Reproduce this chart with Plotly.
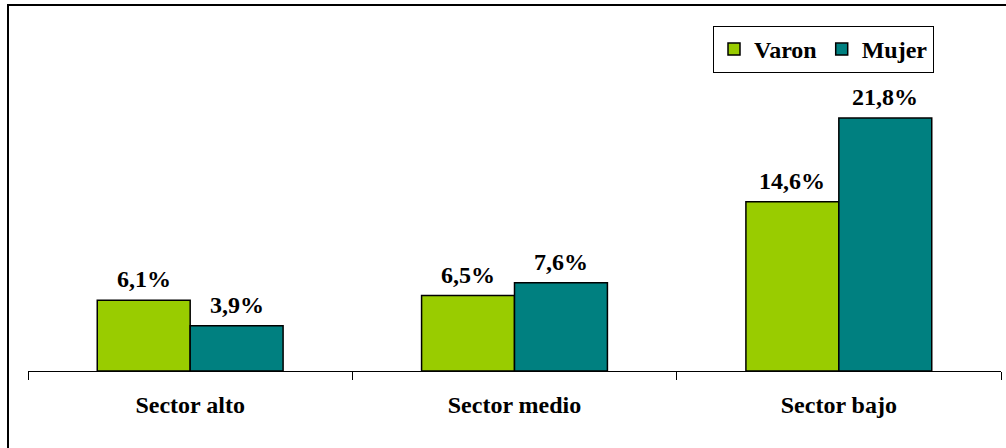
import plotly.graph_objects as go

categories = ["Sector alto", "Sector medio", "Sector bajo"]
varon = [6.1, 6.5, 14.6]
mujer = [3.9, 7.6, 21.8]
series_names = ["Varon", "Mujer"]
colors = ["#99CC00", "#008080"]

W, H = 1006, 448
ml, mr, mt, mb = 28, 5, 10, 77
plot_w = W - ml - mr
plot_h = H - mt - mb
px_per_unit = 11.6
ymax = plot_h / px_per_unit
bargap = 0.427
FONT = "'Times New Roman', 'Liberation Serif', Tinos, serif"
FS = 24

def fmt(v):
    return f"{v:.1f}".replace(".", ",") + "%"

fig = go.Figure()
for name, vals, col in zip(series_names, [varon, mujer], colors):
    fig.add_trace(go.Bar(
        x=categories, y=vals, name="<b>" + name + "</b>",
        marker=dict(color=col, line=dict(color="black", width=1.5)),
    ))

bw = (1 - bargap) / 2
annotations = []
for j, vals in enumerate([varon, mujer]):
    off = -bw / 2 if j == 0 else bw / 2
    for i, v in enumerate(vals):
        annotations.append(dict(
            x=i + off, y=v, xref="x", yref="y", text="<b>" + fmt(v) + "</b>",
            showarrow=False, yanchor="bottom", yshift=6,
            font=dict(family=FONT, size=FS, color="black"),
        ))

fig.update_layout(
    width=W, height=H,
    margin=dict(l=ml, r=mr, t=mt, b=mb),
    paper_bgcolor="white", plot_bgcolor="white",
    barmode="group", bargap=bargap, bargroupgap=0,
    showlegend=True,
    legend=dict(
        orientation="h", x=(934 - ml) / plot_w, xanchor="right",
        y=(H - mb - 26) / plot_h, yanchor="top",
        bordercolor="black", borderwidth=1, bgcolor="white",
        font=dict(family=FONT, size=FS, color="black"),
        itemwidth=30, tracegroupgap=0,
    ),
    annotations=annotations,
    shapes=[dict(
        type="rect", xref="paper", yref="paper",
        x0=(8 - ml) / plot_w, x1=1.2,
        y0=-0.5, y1=(H - mb - 5) / plot_h,
        line=dict(color="black", width=2), fillcolor="rgba(0,0,0,0)", layer="above",
    )],
    xaxis=dict(
        showline=True, linecolor="black", linewidth=1,
        ticks="outside", ticklen=8, tickcolor="black", tickson="boundaries",
        showgrid=False,
        tickfont=dict(family=FONT, size=FS, color="black"),
        ticklabelstandoff=12,
        tickvals=categories,
        ticktext=["<b>" + c + "</b>" for c in categories],
    ),
    yaxis=dict(visible=False, range=[0, ymax]),
)

fig.write_html("out.html")
